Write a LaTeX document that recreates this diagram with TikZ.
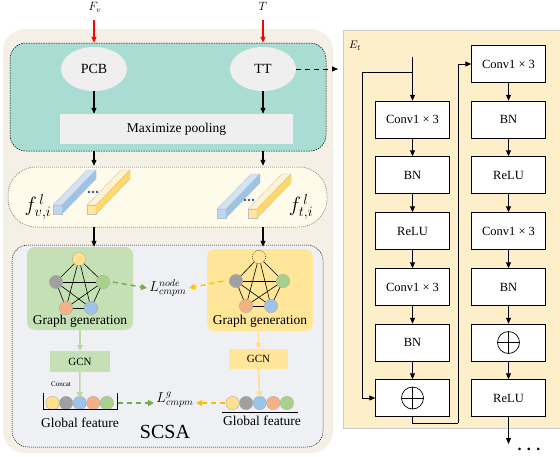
\documentclass[tikz,border=0pt]{standalone}
\usepackage{fontspec}
\setmainfont{Liberation Serif}
\usetikzlibrary{arrows.meta,shapes.geometric,calc}
\definecolor{outerbg}{HTML}{F4F0E5}
\definecolor{tealbg}{HTML}{A9DCD3}
\definecolor{lgray}{HTML}{EFEFEF}
\definecolor{featbg}{HTML}{FEFBEA}
\definecolor{graybg}{HTML}{EEF0F3}
\definecolor{gbox}{HTML}{C5E0B4}
\definecolor{ybox}{HTML}{FFE699}
\definecolor{cyel}{HTML}{FFE08C}
\definecolor{cgray}{HTML}{A0A0A0}
\definecolor{cblue}{HTML}{9DC3E6}
\definecolor{corange}{HTML}{F4B183}
\definecolor{cgreen}{HTML}{A9D18E}
\definecolor{rightbg}{HTML}{FCEFC9}
\definecolor{garrow}{HTML}{70AD47}
\definecolor{yarrow}{HTML}{FFC000}
\definecolor{lgarrow}{HTML}{B9DBA3}
\definecolor{lyarrow}{HTML}{FFE08A}
\definecolor{dotblue}{HTML}{2F5597}
\definecolor{bfront}{HTML}{BDD7EE}
\definecolor{bup}{HTML}{D2E4F4}
\definecolor{bside}{HTML}{9DC3E6}
\definecolor{yfront}{HTML}{FFE699}
\definecolor{yup}{HTML}{FFF2CC}
\definecolor{yside}{HTML}{FFD966}
\newcommand{\featbar}[5]{%
  \begin{scope}[shift={(#1,#2)}]
    \filldraw[fill=#3,draw=gray!50,line width=0.3pt] (0,0) rectangle (9,-9);
    \filldraw[fill=#4,draw=gray!50,line width=0.3pt] (0,-9) -- (9,-9) -- (43,-44) -- (34,-44) -- cycle;
    \filldraw[fill=#5,draw=gray!50,line width=0.3pt] (9,0) -- (9,-9) -- (43,-44) -- (43,-35) -- cycle;
  \end{scope}}
\tikzset{
  arr/.style={-{Triangle[length=6pt,width=5pt]},line width=1.1pt},
  thinarr/.style={-{Triangle[length=6pt,width=5pt]},line width=0.9pt},
  redarr/.style={-{Triangle[length=6pt,width=5pt]},line width=1.3pt,red},
  gnode/.style={circle,minimum size=13.4pt,inner sep=0pt,draw=gray!70,line width=0.3pt},
  fnode/.style={circle,minimum size=13.4pt,inner sep=0pt,draw=gray!70,line width=0.3pt},
  gedge/.style={line width=0.6pt,black},
  gdash/.style={-{Triangle[length=6pt,width=6pt]},line width=1.4pt,garrow,dash pattern=on 5pt off 4pt},
  ydash/.style={-{Triangle[length=6pt,width=6pt]},line width=1.4pt,yarrow,dash pattern=on 5pt off 4pt},
  garr/.style={-{Triangle[length=6pt,width=6pt]},line width=1.5pt,lgarrow},
  yarr/.style={-{Triangle[length=6pt,width=6pt]},line width=1.5pt,lyarrow},
  rbox/.style={draw=black,line width=0.5pt,fill=white,minimum width=74pt,minimum height=37pt,inner sep=0pt,font=\fontsize{12.5}{13}\selectfont},
  lbl/.style={font=\fontsize{13.5}{14}\selectfont,inner sep=0pt},
}
\begin{document}
\begin{tikzpicture}[x=1pt,y=-1pt]
\useasboundingbox (0,0) rectangle (560,456);
\fill[white] (0,0) rectangle (560,456);
% ---------- left side panels ----------
\node[fill=outerbg,rounded corners=22pt,minimum width=330pt,minimum height=424pt,inner sep=0pt] (outer) at (168,241) {};
\node[fill=tealbg,draw=black,line width=0.5pt,dash pattern=on 1.5pt off 1pt,rounded corners=16pt,minimum width=316pt,minimum height=108pt,inner sep=0pt] (teal) at (168,97) {};
\node[fill=featbg,draw=gray!80!black,line width=0.5pt,dash pattern=on 1pt off 1pt,rounded corners=28pt,minimum width=319pt,minimum height=60pt,inner sep=0pt] (feat) at (167.5,197) {};
\node[fill=graybg,draw=black,line width=0.5pt,dash pattern=on 1pt off 1pt,rounded corners=16pt,minimum width=311pt,minimum height=202pt,inner sep=0pt] (gpanel) at (167.5,346) {};
% ---------- top ----------
\node[font=\fontsize{12}{12}\selectfont] (fv) at (95,7) {$F_v$};
\node[font=\fontsize{12}{12}\selectfont] (tlab) at (263,6) {$T$};
\node[ellipse,fill=lgray,minimum width=66pt,minimum height=44pt,inner sep=0pt,font=\fontsize{14}{14}\selectfont] (pcb) at (94,69) {PCB};
\node[ellipse,fill=lgray,minimum width=66pt,minimum height=44pt,inner sep=0pt,font=\fontsize{14}{14}\selectfont] (tt) at (263,69) {TT};
\node[fill=lgray,minimum width=233pt,minimum height=30pt,inner sep=0pt,font=\fontsize{13.5}{14}\selectfont] (pool) at (176.5,129) {Maximize pooling};
\coordinate (fvs) at (94,20);
\coordinate (tts) at (263,20);
\draw[redarr] (fvs) -- (fvs |- teal.north);
\draw[redarr] (tts) -- (tts |- teal.north);
\draw[arr] (pcb.south) -- (pcb.south |- pool.north);
\draw[arr] (tt.south) -- (tt.south |- pool.north);
\draw[arr] (pcb.south |- teal.south) -- ([yshift=1pt]pcb.south |- feat.north);
\draw[arr] (tt.south |- teal.south) -- ([yshift=1pt]tt.south |- feat.north);
% ---------- feature bars ----------
\featbar{53}{214}{bfront}{bup}{bside}
\featbar{87}{214}{yfront}{yup}{yside}
\featbar{217}{218}{bfront}{bup}{bside}
\featbar{248}{218}{yfront}{yup}{yside}
\foreach \d in {-4,0,4} {\fill[dotblue] (93+\d,192) circle (1.4); \fill[dotblue] (249+\d,200) circle (1.4);}
\node[font=\fontsize{20}{20}\selectfont] (fvl) at (38,207) {$f^{\,l}_{v,i}$};
\node[font=\fontsize{20}{20}\selectfont] (ftl) at (301,207) {$f^{\,l}_{t,i}$};
\draw[arr] (pcb.south |- feat.south) -- ([yshift=-2pt]pcb.south |- gpanel.north);
\draw[arr] (tt.south |- feat.south) -- ([yshift=-2pt]tt.south |- gpanel.north);
% ---------- graph boxes ----------
\node[fill=gbox,rounded corners=8pt,minimum width=106pt,minimum height=83pt,inner sep=0pt] (gg1) at (80,288.5) {};
\node[fill=ybox,rounded corners=8pt,minimum width=106pt,minimum height=82pt,inner sep=0pt] (gg2) at (260,290) {};
\node[lbl] (gl1) at (80,321) {Graph generation};
\node[lbl] (gl2) at (260,321) {Graph generation};
\begin{scope}[shift={(79,282)}]
  \node[gnode,fill=cyel] (at) at (0,-23) {};
  \node[gnode,fill=cgray] (al) at (-23,0) {};
  \node[gnode,fill=cgreen] (ar) at (24,0) {};
  \node[gnode,fill=corange] (abl) at (-13,26) {};
  \node[gnode,fill=cblue] (abr) at (12,26) {};
\end{scope}
\begin{scope}[shift={(259,281)}]
  \node[gnode,fill=ybox,draw=black,dash pattern=on 1pt off 1pt] (bt) at (0,-24) {};
  \node[gnode,fill=cgray] (bl) at (-23,0) {};
  \node[gnode,fill=cgreen] (br) at (24,0) {};
  \node[gnode,fill=corange] (bbl) at (-13,25) {};
  \node[gnode,fill=cblue] (bbr) at (12,25) {};
\end{scope}
\foreach \p in {a,b} {
  \foreach \u/\v in {t/l,t/r,t/bl,t/br,l/r,l/bl,l/br,r/bl,r/br,bl/br}
    \draw[gedge] (\p\u) -- (\p\v);
}
\node[font=\fontsize{14}{14}\selectfont] (lnode) at (168,288) {$L^{node}_{cmpm}$};
\draw[gdash] ([xshift=3pt]ar.east) -- ([xshift=1pt]lnode.west);
\draw[ydash] ([xshift=-6pt]bl.west) -- ([xshift=-1pt]lnode.east);
% ---------- GCN ----------
\node[fill=gbox,minimum width=60pt,minimum height=21pt,inner sep=0pt,font=\fontsize{11}{11}\selectfont] (gcn1) at (80,361.5) {GCN};
\node[fill=ybox,minimum width=59pt,minimum height=20pt,inner sep=0pt,font=\fontsize{11}{11}\selectfont] (gcn2) at (258.5,359) {GCN};
\draw[garr] (gcn1 |- gg1.south) -- (gcn1.north);
\draw[yarr] (gcn2 |- gg2.south) -- (gcn2.north);
% ---------- global features ----------
\foreach \i/\c in {1/cyel,2/cgray,3/cblue,4/corange,5/cgreen} {
  \node[fnode,fill=\c] (la\i) at (52.5+13.6*\i-13.6,403) {};
  \node[fnode,fill=\c] (ra\i) at (232.5+13.6*\i-13.6,403) {};
}
\draw[line width=0.6pt] (43,393) -- (43,409) -- (117,409) -- (117,393);
\draw[line width=0.6pt] (222,412) -- (298,412);
\coordinate (brk) at (118,403);
\draw[garr] (gcn1.south) -- ([yshift=-2pt]la3.north);
\draw[yarr] (gcn2.south) -- ([yshift=-1pt]ra3.north);
\node[font=\fontsize{7}{7}\selectfont] (concat) at (61,384) {Concat};
\node[font=\fontsize{14}{14}\selectfont] (lg) at (175,400) {$L^{g}_{cmpm}$};
\draw[gdash] (brk) -- ([xshift=1pt]lg.west |- brk);
\draw[ydash] ([xshift=-1pt]ra1.west) -- ([xshift=-1pt]lg.east |- ra1);
\node[lbl] (gf1) at (80,423) {Global feature};
\node[lbl] (gf2) at (262,421) {Global feature};
\node[font=\fontsize{20}{20}\selectfont,inner sep=0pt] (scsa) at (165,432) {SCSA};
% ---------- right panel ----------
\node[fill=rightbg,draw=gray!40,line width=0.5pt,minimum width=217pt,minimum height=398pt,inner sep=0pt,anchor=north west] (rpanel) at (343,30) {};
\draw[-{Triangle[length=6pt,width=5pt]},line width=0.9pt,dash pattern=on 5pt off 4pt,shorten >=5pt] (tt.east) -- (tt.east -| rpanel.west);
\node[font=\fontsize{11}{11}\selectfont] (et) at (355,46) {$E_t$};
\node[rbox] (c1) at (412.5,119.5) {Conv1 × 3};
\node[rbox] (b1) at (412.5,175) {BN};
\node[rbox] (r1) at (412.5,231) {ReLU};
\node[rbox] (c2) at (412.5,287) {Conv1 × 3};
\node[rbox] (b2) at (412.5,342.5) {BN};
\node[rbox] (p1) at (412.5,398) {};
\node[rbox] (d1) at (508.5,64) {Conv1 × 3};
\node[rbox] (d2) at (508.5,119.5) {BN};
\node[rbox] (d3) at (508.5,175) {ReLU};
\node[rbox] (d4) at (508.5,231) {Conv1 × 3};
\node[rbox] (d5) at (508.5,287) {BN};
\node[rbox] (d6) at (508.5,342.5) {};
\node[rbox] (d7) at (508.5,398) {ReLU};
\foreach \n in {p1,d6} {
  \draw[line width=0.7pt] (\n.center) circle (11);
  \draw[line width=0.7pt] (\n.center) +(-11,0) -- +(11,0);
  \draw[line width=0.7pt] (\n.center) +(0,-11) -- +(0,11);
}
\coordinate (rin) at (412.5,57);
\coordinate (rbr) at (412.5,72);
\coordinate (skip) at (362,72);
\coordinate (mid) at (458,423);
\draw[thinarr] (rin) -- (c1.north);
\draw[thinarr] (rbr) -- (skip) |- (p1.west);
\foreach \a/\b in {c1/b1,b1/r1,r1/c2,c2/b2,b2/p1,d1/d2,d2/d3,d3/d4,d4/d5,d5/d6,d6/d7}
  \draw[thinarr] (\a.south) -- (\b.north);
\draw[line width=0.9pt] (p1.south) |- (mid);
\draw[thinarr] (mid) |- (d1.west);
\coordinate (rout) at (508.5,444);
\draw[thinarr] (d7.south) -- (rout);
\node[font=\bfseries\fontsize{16}{16}\selectfont,anchor=base,inner sep=0pt] (dots) at (529,450) {. . .};
\end{tikzpicture}
\end{document}
